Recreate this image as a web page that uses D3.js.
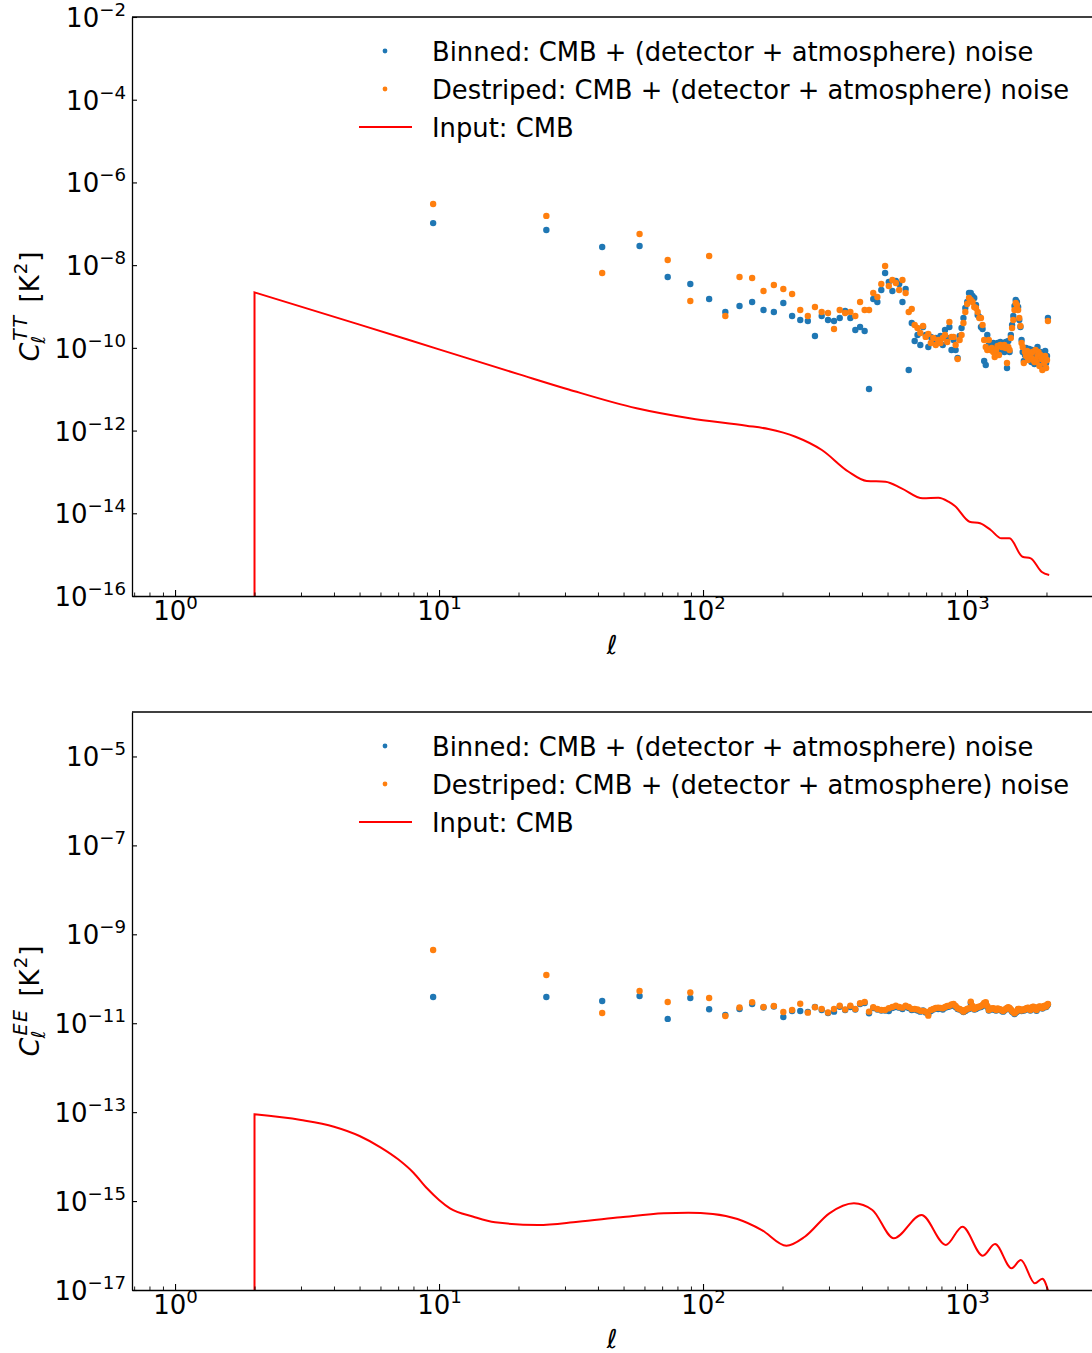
<!DOCTYPE html>
<html><head><meta charset="utf-8">
<script src="https://cdn.jsdelivr.net/npm/d3@7"></script>
<style>body{margin:0;background:#fff}svg{display:block;background:#fff}text{font-family:"DejaVu Sans",sans-serif}</style>
</head><body><svg id="chart" width="1092" height="1353"></svg>
<script>
// ---------- DATA ----------
const ellBins = [
 9.5, 25.5, 41.5, 57.5, 73.5, 89.5, 105.5, 121.5, 137.5, 153.5,
 169.5, 185.5, 201.5, 217.5, 233.5, 249.5, 265.5, 281.5, 297.5, 313.5,
 329.5, 345.5, 361.5, 377.5, 393.5, 409.5, 425.5, 441.5, 457.5, 473.5,
 489.5, 505.5, 521.5, 537.5, 553.5, 569.5, 585.5, 601.5, 617.5, 633.5,
 649.5, 665.5, 681.5, 697.5, 713.5, 729.5, 745.5, 761.5, 777.5, 793.5,
 809.5, 825.5, 841.5, 857.5, 873.5, 889.5, 905.5, 921.5, 937.5, 953.5,
 969.5, 985.5, 1001.5, 1017.5, 1033.5, 1049.5, 1065.5, 1081.5, 1097.5, 1113.5,
 1129.5, 1145.5, 1161.5, 1177.5, 1193.5, 1209.5, 1225.5, 1241.5, 1257.5, 1273.5,
 1289.5, 1305.5, 1321.5, 1337.5, 1353.5, 1369.5, 1385.5, 1401.5, 1417.5, 1433.5,
 1449.5, 1465.5, 1481.5, 1497.5, 1513.5, 1529.5, 1545.5, 1561.5, 1577.5, 1593.5,
 1609.5, 1625.5, 1641.5, 1657.5, 1673.5, 1689.5, 1705.5, 1721.5, 1737.5, 1753.5,
 1769.5, 1785.5, 1801.5, 1817.5, 1833.5, 1849.5, 1865.5, 1881.5, 1897.5, 1913.5,
 1929.5, 1945.5, 1961.5, 1977.5, 1993.5, 2009.5, 2025.5];

const ttBinned = [
 1.04e-7, 7.08e-8, 2.75e-8, 2.91e-8, 5.18e-9, 3.51e-9, 1.52e-9, 7.37e-10, 1.03e-9, 1.29e-9,
 8.24e-10, 7.37e-10, 1.22e-9, 5.90e-10, 4.72e-10, 4.47e-10, 1.94e-10, 5.90e-10, 4.72e-10, 4.47e-10,
 5.28e-10, 7.80e-10, 5.28e-10, 2.71e-10, 3.20e-10, 2.56e-10, 1.01e-11, 1.52e-9, 1.29e-9, 2.51e-9,
 6.46e-9, 3.92e-9, 2.37e-9, 4.14e-9, 3.51e-9, 1.29e-9, 2.65e-9, 2.92e-11, 3.99e-10, 1.47e-10,
 2.05e-10, 1.17e-10, 3.20e-10, 2.05e-10, 1.05e-10, 1.84e-10, 1.39e-10, 1.74e-10, 1.39e-10, 1.94e-10,
 1.17e-10, 2.71e-10, 1.74e-10, 3.20e-10, 8.89e-11, 1.55e-10, 8.89e-11, 5.70e-11, 1.94e-10, 3.03e-10,
 5.28e-10, 9.22e-10, 1.29e-9, 2.12e-9, 2.12e-9, 1.80e-9, 1.61e-9, 1.09e-9, 6.24e-10, 5.59e-10,
 3.20e-10, 2.86e-10, 4.82e-11, 3.85e-11, 2.05e-10, 1.17e-10, 1.17e-10, 8.89e-11, 1.31e-10, 7.96e-11,
 1.05e-10, 1.31e-10, 8.89e-11, 1.39e-10, 9.94e-11, 8.89e-11, 7.96e-11, 1.39e-10, 3.26e-11, 1.47e-10,
 7.96e-11, 2.05e-10, 3.57e-10, 5.90e-10, 1.03e-9, 1.44e-9, 1.29e-9, 9.75e-10, 4.72e-10, 3.20e-10,
 1.55e-10, 7.96e-11, 4.82e-11, 6.73e-11, 9.94e-11, 7.96e-11, 6.03e-11, 9.39e-11, 6.73e-11, 4.56e-11,
 8.89e-11, 6.37e-11, 4.08e-11, 7.96e-11, 5.70e-11, 1.05e-10, 6.73e-11, 5.09e-11, 7.96e-11, 4.82e-11,
 4.08e-11, 7.12e-11, 5.70e-11, 8.41e-11, 4.31e-11, 6.37e-11, 5.28e-10];

const ttDestriped = [
 3.01e-7, 1.55e-7, 6.46e-9, 5.67e-8, 1.33e-8, 1.36e-9, 1.67e-8, 5.90e-10, 5.18e-9, 4.90e-9,
 2.37e-9, 3.32e-9, 2.65e-9, 2.01e-9, 8.24e-10, 5.90e-10, 9.75e-10, 7.37e-10, 6.97e-10, 2.86e-10,
 8.24e-10, 6.97e-10, 7.37e-10, 5.90e-10, 1.29e-9, 8.24e-10, 8.24e-10, 2.12e-9, 1.70e-9, 3.51e-9,
 9.54e-9, 3.14e-9, 4.38e-9, 3.71e-9, 2.51e-9, 4.38e-9, 2.12e-9, 7.37e-10, 8.71e-10, 3.57e-10,
 3.03e-10, 2.29e-10, 3.38e-10, 1.84e-10, 2.17e-10, 1.31e-10, 1.74e-10, 1.17e-10, 1.55e-10, 1.31e-10,
 1.74e-10, 2.05e-10, 1.39e-10, 4.22e-10, 1.84e-10, 1.84e-10, 1.17e-10, 5.39e-11, 1.55e-10, 2.05e-10,
 3.99e-10, 7.37e-10, 1.15e-9, 1.61e-9, 1.44e-9, 1.29e-9, 9.75e-10, 9.22e-10, 7.37e-10, 5.28e-10,
 5.28e-10, 3.57e-10, 1.55e-10, 1.05e-10, 8.89e-11, 1.55e-10, 8.89e-11, 9.94e-11, 7.96e-11, 6.03e-11,
 8.89e-11, 1.11e-10, 6.73e-11, 1.17e-10, 1.05e-10, 1.05e-10, 1.17e-10, 9.94e-11, 4.31e-11, 1.05e-10,
 8.89e-11, 1.74e-10, 3.03e-10, 4.72e-10, 8.24e-10, 1.22e-9, 1.09e-9, 8.24e-10, 5.28e-10, 3.38e-10,
 1.31e-10, 1.05e-10, 4.31e-11, 7.96e-11, 6.37e-11, 8.41e-11, 5.09e-11, 7.52e-11, 7.12e-11, 5.70e-11,
 7.96e-11, 5.09e-11, 4.56e-11, 8.89e-11, 4.56e-11, 6.37e-11, 7.96e-11, 3.64e-11, 6.73e-11, 5.39e-11,
 2.92e-11, 5.70e-11, 4.31e-11, 6.37e-11, 3.26e-11, 5.09e-11, 4.47e-10];

const eeBinned = [
 3.89e-11, 3.89e-11, 3.16e-11, 4.10e-11, 1.25e-11, 3.69e-11, 2.06e-11, 1.53e-11, 2.09e-11, 2.71e-11,
 2.26e-11, 2.38e-11, 1.38e-11, 1.88e-11, 1.88e-11, 1.79e-11, 2.32e-11, 1.98e-11, 1.70e-11, 1.82e-11,
 2.35e-11, 1.98e-11, 2.32e-11, 2.04e-11, 2.71e-11, 2.85e-11, 1.67e-11, 2.20e-11, 2.04e-11, 1.93e-11,
 1.93e-11, 1.88e-11, 2.20e-11, 2.32e-11, 2.24e-11, 2.09e-11, 2.38e-11, 2.20e-11, 1.98e-11, 2.04e-11,
 1.93e-11, 1.82e-11, 1.93e-11, 1.74e-11, 1.61e-11, 1.88e-11, 2.04e-11, 2.14e-11, 2.09e-11, 2.17e-11,
 2.04e-11, 2.24e-11, 2.32e-11, 2.38e-11, 2.48e-11, 2.57e-11, 2.32e-11, 2.09e-11, 2.04e-11, 1.93e-11,
 1.79e-11, 1.88e-11, 2.04e-11, 2.09e-11, 2.85e-11, 2.32e-11, 2.04e-11, 2.09e-11, 2.24e-11, 2.28e-11,
 2.32e-11, 2.48e-11, 2.71e-11, 2.81e-11, 2.35e-11, 1.93e-11, 2.04e-11, 2.09e-11, 2.06e-11, 1.98e-11,
 1.93e-11, 2.04e-11, 2.04e-11, 1.98e-11, 1.91e-11, 1.82e-11, 1.93e-11, 2.04e-11, 2.14e-11, 2.20e-11,
 2.14e-11, 1.98e-11, 1.82e-11, 1.74e-11, 1.61e-11, 1.73e-11, 1.82e-11, 2.04e-11, 2.04e-11, 1.91e-11,
 1.88e-11, 1.98e-11, 1.93e-11, 1.98e-11, 2.09e-11, 2.14e-11, 2.17e-11, 2.04e-11, 1.93e-11, 2.14e-11,
 2.24e-11, 2.28e-11, 2.14e-11, 2.04e-11, 1.91e-11, 2.14e-11, 2.24e-11, 2.32e-11, 2.24e-11, 2.28e-11,
 2.14e-11, 2.24e-11, 2.38e-11, 2.41e-11, 2.32e-11, 2.48e-11, 2.64e-11];

const eeDestriped = [
 4.44e-10, 1.22e-10, 1.70e-11, 5.31e-11, 3.00e-11, 4.91e-11, 3.69e-11, 1.45e-11, 2.26e-11, 2.96e-11,
 2.32e-11, 2.44e-11, 1.79e-11, 1.98e-11, 2.75e-11, 1.73e-11, 2.28e-11, 2.09e-11, 1.74e-11, 2.09e-11,
 2.48e-11, 2.04e-11, 2.48e-11, 2.09e-11, 2.81e-11, 3.00e-11, 1.82e-11, 2.28e-11, 2.09e-11, 1.98e-11,
 1.98e-11, 2.17e-11, 2.32e-11, 2.48e-11, 2.32e-11, 2.24e-11, 2.48e-11, 2.32e-11, 2.09e-11, 2.09e-11,
 2.04e-11, 1.91e-11, 1.88e-11, 1.82e-11, 1.48e-11, 1.98e-11, 2.09e-11, 2.20e-11, 2.24e-11, 2.20e-11,
 2.17e-11, 2.32e-11, 2.44e-11, 2.48e-11, 2.64e-11, 2.71e-11, 2.44e-11, 2.17e-11, 2.09e-11, 1.98e-11,
 1.82e-11, 1.98e-11, 2.09e-11, 2.17e-11, 3.05e-11, 2.44e-11, 2.09e-11, 2.20e-11, 2.32e-11, 2.35e-11,
 2.44e-11, 2.57e-11, 2.85e-11, 2.96e-11, 2.44e-11, 1.98e-11, 2.09e-11, 2.14e-11, 2.17e-11, 2.09e-11,
 1.98e-11, 2.14e-11, 2.09e-11, 2.04e-11, 1.98e-11, 1.88e-11, 1.98e-11, 2.09e-11, 2.20e-11, 2.28e-11,
 2.20e-11, 2.04e-11, 1.88e-11, 1.79e-11, 1.67e-11, 1.79e-11, 1.88e-11, 2.09e-11, 2.09e-11, 1.98e-11,
 1.93e-11, 2.04e-11, 1.98e-11, 2.04e-11, 2.14e-11, 2.20e-11, 2.24e-11, 2.09e-11, 1.98e-11, 2.20e-11,
 2.32e-11, 2.35e-11, 2.20e-11, 2.09e-11, 1.98e-11, 2.20e-11, 2.32e-11, 2.38e-11, 2.32e-11, 2.35e-11,
 2.20e-11, 2.32e-11, 2.44e-11, 2.48e-11, 2.38e-11, 2.57e-11, 2.71e-11];

const ttInputEll = [2, 5, 10, 20, 31, 56, 89, 146, 177, 224, 282, 356, 417, 491, 565, 680, 779, 851, 900, 1022, 1121, 1230, 1350, 1448, 1622, 1744, 1915, 2048];
const ttInputCl = [2.20e-9, 3.65e-10, 9.19e-11, 2.32e-11, 9.84e-12, 3.45e-12, 1.98e-12, 1.31e-12, 1.09e-12, 7.11e-13, 3.39e-13, 1.01e-13, 6.04e-14, 5.81e-14, 4.02e-14, 2.30e-14, 2.38e-14, 1.91e-14, 1.50e-14, 6.27e-15, 5.73e-15, 3.94e-15, 2.48e-15, 2.48e-15, 8.91e-16, 8.15e-16, 3.86e-16, 3.22e-16];

const eeInputEll = [2, 3, 4, 5, 6, 7, 8, 9, 10, 11, 13.5, 16.3, 23.7, 33.6, 48.8, 71, 88, 109, 135, 167, 207, 243, 301, 373, 438, 528, 672, 832, 961, 1148, 1277, 1475, 1599, 1808, 1928, 2048];
const eeInputCl = [8.95e-14, 6.67e-14, 4.71e-14, 2.91e-14, 1.62e-14, 8.71e-15, 4.35e-15, 1.94e-15, 1.06e-15, 6.87e-16, 4.45e-16, 3.33e-16, 2.90e-16, 3.44e-16, 4.32e-16, 5.31e-16, 5.47e-16, 5.12e-16, 3.95e-16, 2.23e-16, 9.9e-17, 1.58e-16, 5.31e-16, 8.91e-16, 6.30e-16, 1.46e-16, 4.87e-16, 1.03e-16, 2.65e-16, 5.9e-17, 1.08e-16, 3.08e-17, 4.73e-17, 1.41e-17, 1.79e-17, 8.0e-18];

const xMajorTicks = [1, 10, 100, 1000];
const xMinorTicks = [0.7, 0.8, 0.9, 2, 3, 4, 5, 6, 7, 8, 9, 20, 30, 40, 50, 60, 70, 80, 90, 200, 300, 400, 500, 600, 700, 800, 900, 2000];
const ttYTicks = [1e-2, 1e-4, 1e-6, 1e-8, 1e-10, 1e-12, 1e-14, 1e-16];
const eeYTicks = [1e-5, 1e-7, 1e-9, 1e-11, 1e-13, 1e-15, 1e-17];
const legendLabels = ["Binned: CMB + (detector + atmosphere) noise", "Destriped: CMB + (detector + atmosphere) noise", "Input: CMB"];
const seriesColors = ["#1f77b4", "#ff7f0e", "#ff0000"];

// ---------- DRAW ----------
const svg = d3.select("#chart");
const FS = 26, SUPFS = 18.2, LEGFS = 25.8;
const left = 132, right = 1092;
const x = d3.scaleLog().domain([0.687, 2975]).range([left, right]);

function supText(sel, exp) {
  sel.text(null);
  sel.append("tspan").text("10");
  sel.append("tspan").attr("dy", -11).attr("font-size", SUPFS)
     .text(exp < 0 ? "\u2212" + (-exp) : String(exp));
}

function panel(opt) {
  const y = d3.scaleLog().domain(opt.yDomain).range([opt.bottom, opt.top]);
  const id = "clip" + opt.name;
  svg.append("clipPath").attr("id", id).append("rect")
    .attr("x", left).attr("y", opt.top).attr("width", right - left).attr("height", opt.bottom - opt.top);
  const plot = svg.append("g").attr("clip-path", `url(#${id})`);

  const pts = (vals) => ellBins.map((l, i) => [l, vals[i]]);
  plot.append("g").selectAll("circle").data(pts(opt.binned)).join("circle")
    .attr("cx", d => x(d[0])).attr("cy", d => y(d[1])).attr("r", 3.2).attr("fill", seriesColors[0]);
  plot.append("g").selectAll("circle").data(pts(opt.destriped)).join("circle")
    .attr("cx", d => x(d[0])).attr("cy", d => y(d[1])).attr("r", 3.2).attr("fill", seriesColors[1]);

  const lineData = opt.lineEll.map((l, i) => [x(l), y(opt.lineCl[i])]);
  const curve = d3.line().curve(d3.curveMonotoneX)(lineData);
  const dPath = "M" + lineData[0][0] + "," + (opt.bottom + 20) + "L" + curve.slice(1);
  plot.append("path").attr("d", dPath).attr("fill", "none").attr("stroke", seriesColors[2])
    .attr("stroke-width", 2).attr("stroke-linejoin", "miter");

  // axes
  const ya = svg.append("g").attr("transform", `translate(${left},0)`)
    .call(d3.axisLeft(y).tickValues(opt.yTicks).tickSize(-5).tickSizeOuter(0).tickPadding(6));
  ya.attr("font-size", FS).attr("font-family", "DejaVu Sans");
  ya.select(".domain").attr("stroke-width", 1.3);
  ya.selectAll(".tick line").attr("stroke-width", 1.1);
  ya.selectAll(".tick text").attr("dy", null).attr("y", 9.5).attr("x", -6).attr("fill", "#000")
    .each(function(d) { supText(d3.select(this), Math.round(Math.log10(d))); });

  const xa = svg.append("g").attr("transform", `translate(0,${opt.bottom})`)
    .call(d3.axisBottom(x).tickValues(xMajorTicks).tickSize(-6).tickSizeOuter(0).tickPadding(5));
  xa.attr("font-size", FS).attr("font-family", "DejaVu Sans");
  xa.select(".domain").attr("stroke-width", 1.3);
  xa.selectAll(".tick line").attr("stroke-width", 1.1);
  xa.selectAll(".tick text").attr("dy", null).attr("y", 24).attr("fill", "#000")
    .each(function(d) { supText(d3.select(this), Math.round(Math.log10(d))); });
  const xm = svg.append("g").attr("transform", `translate(0,${opt.bottom})`)
    .call(d3.axisBottom(x).tickValues(xMinorTicks).tickSize(-3.5).tickSizeOuter(0).tickFormat(""));
  xm.select(".domain").remove();
  xm.selectAll(".tick line").attr("stroke-width", 0.9);

  // top spine
  svg.append("line").attr("x1", left).attr("x2", right).attr("y1", opt.top).attr("y2", opt.top)
    .attr("stroke", "#000").attr("stroke-width", 1.3);

  // x label
  svg.append("text").attr("x", (left + right) / 2).attr("y", opt.bottom + 58)
    .attr("text-anchor", "middle").attr("font-size", FS).attr("font-style", "italic").text("\u2113");

  // y label
  const g = svg.append("g").attr("transform", `translate(39,${(opt.top + opt.bottom) / 2}) rotate(-90)`);
  const inner = g.append("g");
  const c = inner.append("text").attr("font-size", FS + 1).attr("font-style", "italic").text("C");
  const wC = c.node().getComputedTextLength();
  const s = inner.append("text").attr("font-size", 19).attr("font-style", "italic")
    .attr("letter-spacing", 1.5).attr("x", wC + 2).attr("y", -12).text(opt.sup);
  const l = inner.append("text").attr("font-size", 19).attr("font-style", "italic")
    .attr("x", wC - 1).attr("y", 6).text("\u2113");
  const wS = Math.max(s.node().getComputedTextLength() + 2, l.node().getComputedTextLength() - 1);
  const gap = 12;
  const k = inner.append("text").attr("font-size", FS).attr("x", wC + wS + gap).text("[K");
  const wK = k.node().getComputedTextLength();
  const two = inner.append("text").attr("font-size", SUPFS).attr("x", wC + wS + gap + wK + 1).attr("y", -12).text("2");
  const w2 = two.node().getComputedTextLength();
  const br = inner.append("text").attr("font-size", FS).attr("x", wC + wS + gap + wK + 1 + w2 + 1).text("]");
  const W = wC + wS + gap + wK + 1 + w2 + 1 + br.node().getComputedTextLength();
  inner.attr("transform", `translate(${-W / 2},0)`);

  // legend
  const lg = svg.append("g");
  const rows = [opt.legendTop, opt.legendTop + 38, opt.legendTop + 76];
  lg.append("circle").attr("cx", 385).attr("cy", rows[0]).attr("r", 2.4).attr("fill", seriesColors[0]);
  lg.append("circle").attr("cx", 385).attr("cy", rows[1]).attr("r", 2.4).attr("fill", seriesColors[1]);
  lg.append("line").attr("x1", 359).attr("x2", 412).attr("y1", rows[2]).attr("y2", rows[2])
    .attr("stroke", seriesColors[2]).attr("stroke-width", 2);
  legendLabels.forEach((t, i) => {
    lg.append("text").attr("x", 432).attr("y", rows[i] + 9.5).attr("font-size", LEGFS).text(t);
  });
}

panel({name: "tt", top: 17, bottom: 596, yDomain: [1e-16, 1e-2], yTicks: ttYTicks,
       binned: ttBinned, destriped: ttDestriped, lineEll: ttInputEll, lineCl: ttInputCl,
       sup: "TT", legendTop: 51});
panel({name: "ee", top: 712, bottom: 1290, yDomain: [1e-17, 1e-4], yTicks: eeYTicks,
       binned: eeBinned, destriped: eeDestriped, lineEll: eeInputEll, lineCl: eeInputCl,
       sup: "EE", legendTop: 746});
</script>
</body></html>
